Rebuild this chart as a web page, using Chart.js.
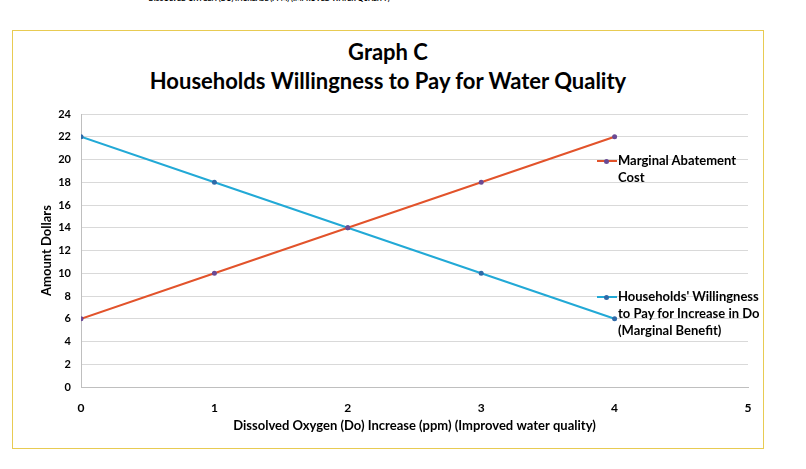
<!DOCTYPE html>
<html>
<head>
<meta charset="utf-8">
<script src="https://cdn.jsdelivr.net/npm/chart.js@4"></script>
<style>
  body { margin: 0; background: #fff; font-family: Lato, "Open Sans", sans-serif; }
  #page { position: relative; width: 806px; height: 469px; overflow: hidden; }
  .cut { position: absolute; top: -6px; left: 133px; width: 272px; text-align: center; font-weight: bold; font-size: 7px; color: #000; white-space: nowrap; }
  .marco { position: absolute; left: 12px; top: 30px; width: 752px; height: 419px; box-sizing: border-box; border: 1px solid #E8CB52; }
  .caja { position: absolute; left: 13px; top: 31px; width: 750px; height: 417px; }
  .titulo { position: absolute; left: 13px; width: 750px; text-align: center; font-weight: bold; font-size: 22px; color: #000; top: 37px; line-height: 29px; }
  .leyenda { position: absolute; font-weight: bold; font-size: 13px; line-height: 17px; color: #000; }
  .muestra { position: absolute; width: 20px; height: 2px; }
  .punto { position: absolute; width: 5px; height: 5px; border-radius: 50%; left: 7px; top: -1.5px; }
</style>
</head>
<body>
<div id="page">
  <div class="cut">DISSOLVED OXYGEN (DO) INCREASE (PPM) (IMPROVED WATER QUALITY)</div>
  <div class="marco"></div>
  <div class="titulo">Graph C<br>Households Willingness to Pay for Water Quality</div>
  <div class="caja"><canvas id="myChart" width="750" height="417"></canvas></div>

  <div class="muestra" style="left:597px; top:160px; background:#E2532B;"><div class="punto" style="background:#6A4A94;"></div></div>
  <div class="leyenda" style="left:618px; top:152px;">Marginal Abatement<br>Cost</div>

  <div class="muestra" style="left:597px; top:296px; background:#22A9D6;"><div class="punto" style="background:#2F6AA8;"></div></div>
  <div class="leyenda" style="left:618px; top:288px;">Households' Willingness<br>to Pay for Increase in Do<br>(Marginal Benefit)</div>
</div>

<script>
// datos del grafico
var oxigeno = [0, 1, 2, 3, 4];
var costo_abatimiento = [6, 10, 14, 18, 22];
var disposicion_pago = [22, 18, 14, 10, 6];
var ticks_x = [0, 1, 2, 3, 4, 5];
var ticks_y = [0, 2, 4, 6, 8, 10, 12, 14, 16, 18, 20, 22, 24];

function puntos(xs, ys) {
  return xs.map(function (x, i) { return { x: x, y: ys[i] }; });
}

var fuente = "Lato, 'Open Sans', sans-serif";

var chart_line = new Chart(document.getElementById('myChart'), {
  type: 'line',
  data: {
    datasets: [
      {
        label: 'Marginal Abatement Cost',
        data: puntos(oxigeno, costo_abatimiento),
        borderColor: '#E2532B',
        backgroundColor: '#6A4A94',
        pointBackgroundColor: '#6A4A94',
        pointBorderWidth: 0,
        pointRadius: 2.5,
        borderWidth: 2,
        tension: 0
      },
      {
        label: "Households' Willingness to Pay for Increase in Do (Marginal Benefit)",
        data: puntos(oxigeno, disposicion_pago),
        borderColor: '#22A9D6',
        backgroundColor: '#2F6AA8',
        pointBackgroundColor: '#2F6AA8',
        pointBorderWidth: 0,
        pointRadius: 2.5,
        borderWidth: 2,
        tension: 0
      }
    ]
  },
  options: {
    responsive: false,
    animation: false,
    layout: { padding: { top: 83, right: 15, bottom: 0, left: 0 } },
    plugins: {
      legend: { display: false },
      title: { display: false },
      tooltip: { enabled: false }
    },
    scales: {
      x: {
        type: 'linear',
        min: 0,
        max: 5,
        afterBuildTicks: function (s) { s.ticks = ticks_x.map(function (v) { return { value: v }; }); },
        afterFit: function (s) { s.height = 61; },
        grid: { display: false },
        border: { display: true, color: '#BFBFBF', width: 1 },
        ticks: { color: '#000', padding: 6, font: { family: fuente, size: 12, weight: 'bold' } },
        title: {
          display: true,
          text: 'Dissolved Oxygen (Do) Increase (ppm) (Improved water quality)',
          color: '#000',
          padding: { top: 0, bottom: 14 },
          font: { family: fuente, size: 13, weight: 'bold' }
        }
      },
      y: {
        min: 0,
        max: 24,
        afterBuildTicks: function (s) { s.ticks = ticks_y.map(function (v) { return { value: v }; }); },
        afterFit: function (s) { s.width = 68; },
        grid: { color: '#D9D9D9', drawTicks: false },
        border: { display: true, color: '#BFBFBF', width: 1 },
        ticks: { color: '#000', padding: 10, font: { family: fuente, size: 11, weight: 'bold' } },
        title: {
          display: true,
          text: 'Amount Dollars',
          color: '#000',
          padding: { top: 26, bottom: 0 },
          font: { family: fuente, size: 13, weight: 'bold' }
        }
      }
    }
  }
});
</script>
</body>
</html>
